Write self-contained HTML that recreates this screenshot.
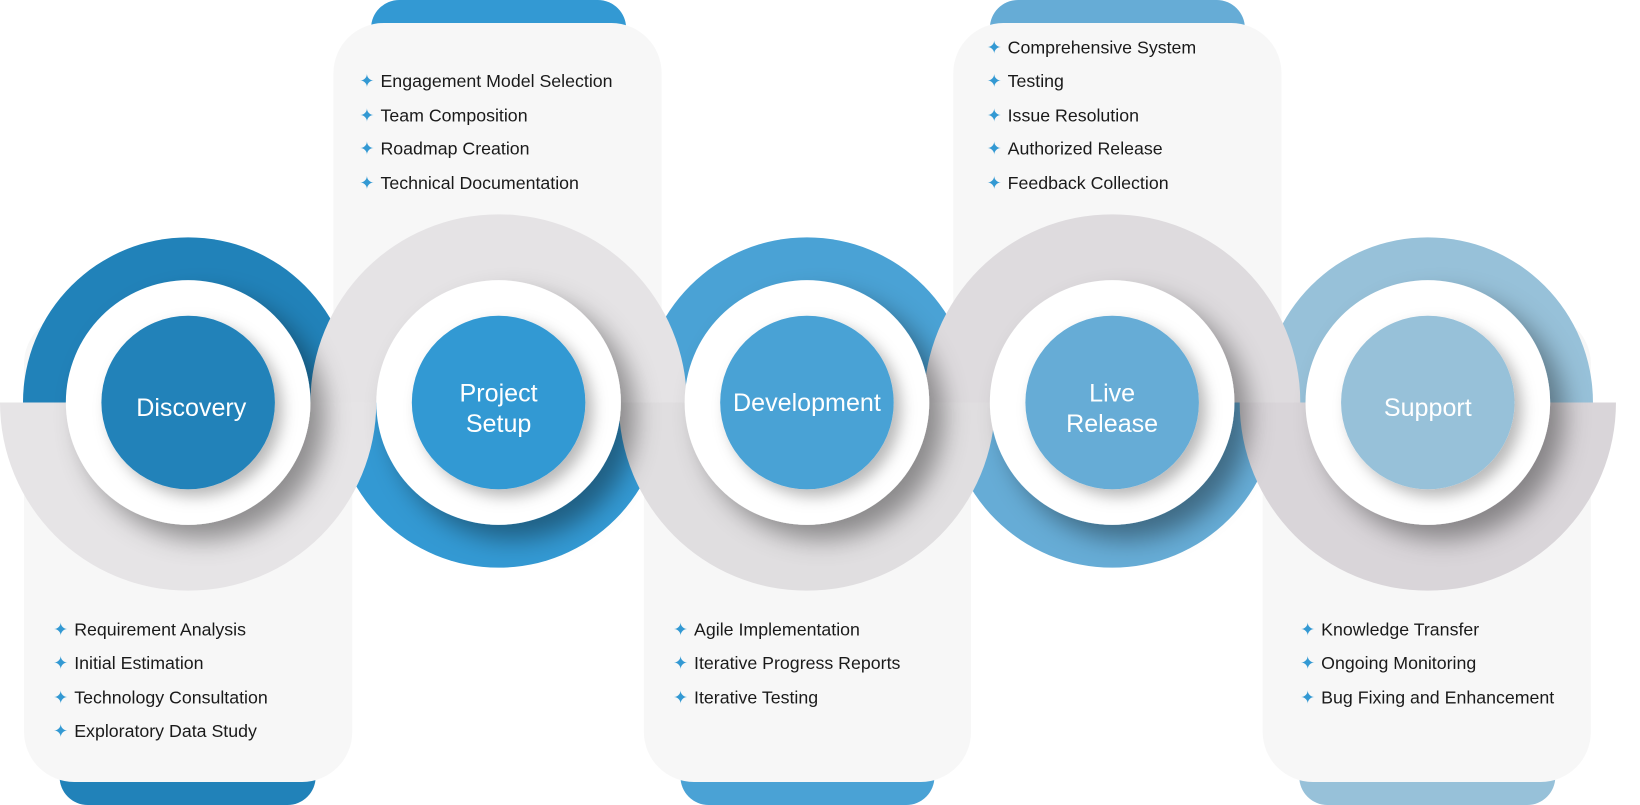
<!DOCTYPE html>
<html><head><meta charset="utf-8"><style>
html,body{margin:0;padding:0;background:#fff;width:1640px;height:805px;overflow:hidden}
svg{display:block}
.t{font-family:"Liberation Sans",sans-serif;font-size:17px;fill:#1a1a1a}
.b{fill:#3399d3;font-size:17px;font-family:"DejaVu Sans",sans-serif}
.c{font-family:"Liberation Sans",sans-serif;font-size:24px;fill:#fff;text-anchor:middle;font-weight:500}
</style></head><body>
<svg width="1640" height="805" viewBox="0 0 1569 770" preserveAspectRatio="none" xmlns="http://www.w3.org/2000/svg">
<defs>
<filter id="s1" x="-30%" y="-30%" width="170%" height="170%"><feDropShadow dx="14" dy="14" stdDeviation="12" flood-color="#000" flood-opacity="0.38"/></filter>
<filter id="s2" x="-30%" y="-30%" width="170%" height="170%"><feDropShadow dx="7" dy="7" stdDeviation="7" flood-color="#000" flood-opacity="0.28"/></filter>
</defs>
<rect x="57" y="715" width="245" height="55" rx="27" fill="#2182b9"/>
<rect x="355" y="0" width="244" height="55" rx="27" fill="#3399d3"/>
<rect x="651" y="715" width="243" height="55" rx="27" fill="#4aa2d5"/>
<rect x="947" y="0" width="244" height="55" rx="27" fill="#66acd6"/>
<rect x="1243" y="715" width="245" height="55" rx="27" fill="#97c1d9"/>
<rect x="23" y="300" width="314" height="448" rx="48" fill="#f7f7f7"/>
<rect x="319" y="22" width="314" height="420" rx="48" fill="#f7f7f7"/>
<rect x="616" y="300" width="313" height="448" rx="48" fill="#f7f7f7"/>
<rect x="912" y="22" width="314" height="420" rx="48" fill="#f7f7f7"/>
<rect x="1208" y="300" width="314" height="448" rx="48" fill="#f7f7f7"/>
<path d="M22,385 A158,158 0 0 1 338,385 Z" fill="#2182b9"/>
<path d="M319,385 A158,158 0 0 0 635,385 Z" fill="#3399d3"/>
<path d="M614,385 A158,158 0 0 1 930,385 Z" fill="#4aa2d5"/>
<path d="M906,385 A158,158 0 0 0 1222,385 Z" fill="#66acd6"/>
<path d="M1208,385 A158,158 0 0 1 1524,385 Z" fill="#97c1d9"/>
<path d="M0,385 A180,180 0 0 0 360,385 Z" fill="#e6e4e6"/>
<path d="M297,385 A180,180 0 0 1 657,385 Z" fill="#e5e3e5"/>
<path d="M592,385 A180,180 0 0 0 952,385 Z" fill="#e0dee0"/>
<path d="M884,385 A180,180 0 0 1 1244,385 Z" fill="#dedbde"/>
<path d="M1186,385 A180,180 0 0 0 1546,385 Z" fill="#d9d5d9"/>
<g filter="url(#s1)" fill="#fff">
<circle cx="180" cy="385" r="117"/>
<circle cx="477" cy="385" r="117"/>
<circle cx="772" cy="385" r="117"/>
<circle cx="1064" cy="385" r="117"/>
<circle cx="1366" cy="385" r="117"/>
</g>
<g filter="url(#s2)">
<circle cx="180" cy="385" r="83" fill="#2182b9"/>
<circle cx="477" cy="385" r="83" fill="#3399d3"/>
<circle cx="772" cy="385" r="83" fill="#4aa2d5"/>
<circle cx="1064" cy="385" r="83" fill="#66acd6"/>
<circle cx="1366" cy="385" r="83" fill="#97c1d9"/>
</g>
<text class="c" x="183" y="398">Discovery</text>
<text class="c" x="477" y="384">Project</text>
<text class="c" x="477" y="413">Setup</text>
<text class="c" x="772" y="393">Development</text>
<text class="c" x="1064" y="384">Live</text>
<text class="c" x="1064" y="413">Release</text>
<text class="c" x="1366" y="398">Support</text>
<g>
<text class="b" x="51" y="608">✦</text><text class="t" x="71" y="608">Requirement Analysis</text>
<text class="b" x="51" y="640">✦</text><text class="t" x="71" y="640">Initial Estimation</text>
<text class="b" x="51" y="673">✦</text><text class="t" x="71" y="673">Technology Consultation</text>
<text class="b" x="51" y="705">✦</text><text class="t" x="71" y="705">Exploratory Data Study</text>

<text class="b" x="344" y="83">✦</text><text class="t" x="364" y="83">Engagement Model Selection</text>
<text class="b" x="344" y="116">✦</text><text class="t" x="364" y="116">Team Composition</text>
<text class="b" x="344" y="148">✦</text><text class="t" x="364" y="148">Roadmap Creation</text>
<text class="b" x="344" y="181">✦</text><text class="t" x="364" y="181">Technical Documentation</text>

<text class="b" x="644" y="608">✦</text><text class="t" x="664" y="608">Agile Implementation</text>
<text class="b" x="644" y="640">✦</text><text class="t" x="664" y="640">Iterative Progress Reports</text>
<text class="b" x="644" y="673">✦</text><text class="t" x="664" y="673">Iterative Testing</text>

<text class="b" x="944" y="51">✦</text><text class="t" x="964" y="51">Comprehensive System</text>
<text class="b" x="944" y="83">✦</text><text class="t" x="964" y="83">Testing</text>
<text class="b" x="944" y="116">✦</text><text class="t" x="964" y="116">Issue Resolution</text>
<text class="b" x="944" y="148">✦</text><text class="t" x="964" y="148">Authorized Release</text>
<text class="b" x="944" y="181">✦</text><text class="t" x="964" y="181">Feedback Collection</text>

<text class="b" x="1244" y="608">✦</text><text class="t" x="1264" y="608">Knowledge Transfer</text>
<text class="b" x="1244" y="640">✦</text><text class="t" x="1264" y="640">Ongoing Monitoring</text>
<text class="b" x="1244" y="673">✦</text><text class="t" x="1264" y="673">Bug Fixing and Enhancement</text>
</g>
</svg>
</body></html>
